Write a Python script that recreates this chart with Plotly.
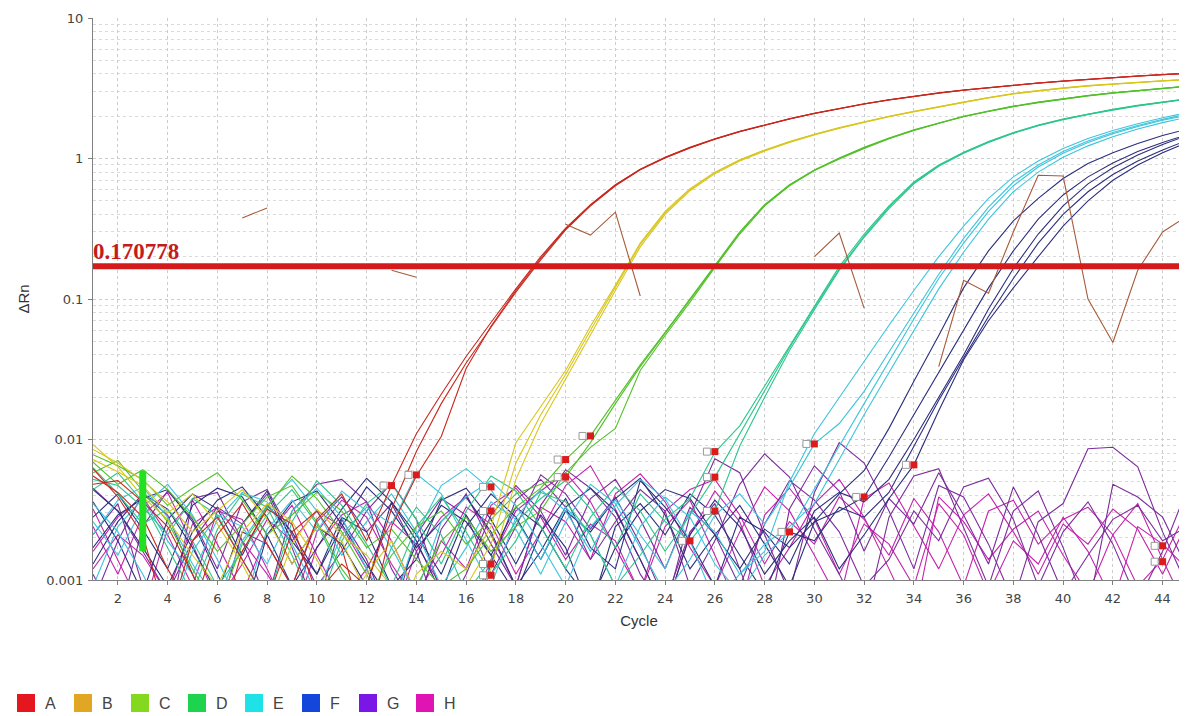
import math
import plotly.graph_objects as go

cycles = list(range(1, 46))
x_ticks = list(range(2, 45, 2))
y_ticks = [0.001, 0.01, 0.1, 1, 10]
y_tick_text = ["0.001", "0.01", "0.1", "1", "10"]
threshold = 0.170778
legend_rows = ["A", "B", "C", "D", "E", "F", "G", "H"]
legend_colors = ["#e4161e", "#e0a624", "#84d81e", "#1ed44e", "#1ee2e6", "#1446dc", "#7a16e6", "#e014b2"]

# ---- amplification curves: baseline part (from cycle 1) + rising part ----
A1_base = [0.0055, 0.0042, 0.0028, 0.0012, 0.0006, 0.0021, 0.0035, 0.0018, 0.0009, 0.0027, 0.0041, 0.0019]
A1_rise = [0.0047, 0.011, 0.021, 0.039, 0.068, 0.118, 0.20, 0.32, 0.47, 0.65, 0.84, 1.02, 1.20, 1.38, 1.56, 1.74, 1.92, 2.10, 2.28, 2.45, 2.62, 2.78, 2.93, 3.07, 3.20, 3.33, 3.45, 3.56, 3.67, 3.77, 3.87, 3.96, 4.05]
A2_base = [0.0048, 0.0051, 0.0036, 0.0024, 0.0011, 0.0004, 0.0016, 0.0032, 0.0025, 0.0008, 0.0013, 0.0009]
A2_rise = [0.0032, 0.0082, 0.018, 0.035, 0.063, 0.112, 0.19, 0.31, 0.46, 0.64, 0.83, 1.01, 1.19, 1.37, 1.55, 1.73, 1.91, 2.09, 2.27, 2.44, 2.61, 2.77, 2.92, 3.06, 3.19, 3.32, 3.44, 3.55, 3.66, 3.76, 3.86, 3.95, 4.03]
A3_base = [0.0062, 0.0039, 0.0021, 0.0005, 0.0019, 0.0028, 0.0014, 0.0007, 0.0022, 0.0031, 0.0017, 0.0004, 0.0024]
A3_rise = [0.0055, 0.0105, 0.032, 0.064, 0.115, 0.195, 0.315, 0.465, 0.645, 0.835, 1.015, 1.195, 1.375, 1.555, 1.735, 1.915, 2.095, 2.275, 2.445, 2.615, 2.775, 2.925, 3.065, 3.195, 3.325, 3.445, 3.555, 3.665, 3.765, 3.865, 3.955, 4.04]

B1_base = [0.0085, 0.0068, 0.0051, 0.0036, 0.0022, 0.0031, 0.0044, 0.0027, 0.0013, 0.0024, 0.0019, 0.0008, 0.0004, 0.0011, 0.0016, 0.0012]
B1_rise = [0.0024, 0.0095, 0.017, 0.031, 0.064, 0.125, 0.25, 0.42, 0.61, 0.80, 0.98, 1.15, 1.32, 1.49, 1.66, 1.83, 2.0, 2.17, 2.34, 2.53, 2.72, 2.9, 3.05, 3.18, 3.3, 3.4, 3.5, 3.58, 3.66]
B2_base = [0.0072, 0.0059, 0.0047, 0.0030, 0.0041, 0.0025, 0.0013, 0.0006, 0.0018, 0.0032, 0.0021, 0.0015, 0.0009, 0.0005, 0.0007, 0.0009]
B2_rise = [0.0018, 0.0068, 0.015, 0.029, 0.06, 0.12, 0.245, 0.41, 0.60, 0.79, 0.97, 1.14, 1.31, 1.48, 1.65, 1.82, 1.99, 2.16, 2.33, 2.52, 2.71, 2.89, 3.04, 3.17, 3.29, 3.39, 3.49, 3.57, 3.65]
B3_base = [0.0092, 0.0064, 0.0039, 0.0027, 0.0015, 0.0009, 0.0022, 0.0035, 0.0026, 0.0014, 0.0006, 0.0011, 0.0019, 0.0008, 0.0010, 0.0006]
B3_rise = [0.0012, 0.0052, 0.013, 0.027, 0.056, 0.115, 0.235, 0.40, 0.59, 0.78, 0.96, 1.13, 1.30, 1.47, 1.64, 1.81, 1.98, 2.15, 2.32, 2.51, 2.70, 2.88, 3.03, 3.16, 3.28, 3.38, 3.48, 3.56, 3.64]

C1_base = [0.0078, 0.0065, 0.0052, 0.0034, 0.0045, 0.0058, 0.0037, 0.0021, 0.0029, 0.0042, 0.0031, 0.0017, 0.0023, 0.0014, 0.0009, 0.0012, 0.0021, 0.0033]
C1_rise = [0.0045, 0.0072, 0.0106, 0.019, 0.034, 0.058, 0.10, 0.175, 0.30, 0.47, 0.65, 0.83, 1.01, 1.2, 1.4, 1.6, 1.8, 2.0, 2.18, 2.36, 2.52, 2.67, 2.81, 2.94, 3.06, 3.17, 3.28]
C2_base = [0.0069, 0.0048, 0.0061, 0.0044, 0.0028, 0.0016, 0.0025, 0.0039, 0.0047, 0.0026, 0.0012, 0.0007, 0.0015, 0.0024, 0.0031, 0.0018, 0.0027, 0.0041]
C2_rise = [0.0048, 0.0054, 0.0095, 0.018, 0.033, 0.057, 0.098, 0.172, 0.295, 0.465, 0.645, 0.825, 1.0, 1.19, 1.39, 1.59, 1.79, 1.99, 2.17, 2.35, 2.51, 2.66, 2.80, 2.93, 3.05, 3.16, 3.27]
C3_base = [0.0058, 0.0071, 0.0043, 0.0026, 0.0012, 0.0006, 0.0018, 0.0033, 0.0055, 0.0038, 0.0022, 0.0011, 0.0005, 0.0009, 0.0019, 0.0028, 0.0016, 0.0024]
C3_rise = [0.0031, 0.0058, 0.0088, 0.012, 0.031, 0.055, 0.095, 0.168, 0.29, 0.46, 0.64, 0.82, 0.99, 1.18, 1.38, 1.58, 1.78, 1.98, 2.16, 2.34, 2.5, 2.65, 2.79, 2.92, 3.04, 3.15, 3.26]

D1_base = [0.0052, 0.0047, 0.0033, 0.0021, 0.0038, 0.0029, 0.0014, 0.0007, 0.0026, 0.0051, 0.0034, 0.0018, 0.0009, 0.0024, 0.0039, 0.0022, 0.0011, 0.0019, 0.0042, 0.0036, 0.0021, 0.0009, 0.0015, 0.0027, 0.0038]
D1_rise = [0.0081, 0.0125, 0.024, 0.047, 0.09, 0.17, 0.29, 0.46, 0.68, 0.90, 1.11, 1.32, 1.53, 1.73, 1.91, 2.08, 2.24, 2.39, 2.53, 2.66]
D2_base = [0.0044, 0.0058, 0.0036, 0.0017, 0.0008, 0.0023, 0.0041, 0.0033, 0.0015, 0.0006, 0.0019, 0.0035, 0.0048, 0.0027, 0.0013, 0.0031, 0.0055, 0.0043, 0.0024, 0.0012, 0.0028, 0.0046, 0.0031, 0.0016, 0.0029]
D2_rise = [0.0054, 0.011, 0.022, 0.045, 0.087, 0.163, 0.28, 0.45, 0.67, 0.89, 1.10, 1.31, 1.52, 1.72, 1.90, 2.07, 2.23, 2.38, 2.52, 2.65]
D3_base = [0.0063, 0.0041, 0.0025, 0.0032, 0.0019, 0.0009, 0.0016, 0.0029, 0.0044, 0.0025, 0.0011, 0.0006, 0.0017, 0.0033, 0.0021, 0.0008, 0.0014, 0.0026, 0.0038, 0.0051, 0.0032, 0.0017, 0.0041, 0.0026]
D3_rise = [0.0019, 0.0031, 0.009, 0.02, 0.043, 0.084, 0.16, 0.275, 0.44, 0.66, 0.88, 1.09, 1.3, 1.51, 1.71, 1.89, 2.06, 2.22, 2.37, 2.51, 2.64]

E1_base = [0.0035, 0.0022, 0.0011, 0.0005, 0.0016, 0.0029, 0.0024, 0.0013, 0.0031, 0.0045, 0.0028, 0.0012, 0.0006, 0.0021, 0.0047, 0.0062, 0.0044, 0.0023, 0.0011, 0.0026, 0.0048, 0.0035, 0.0017, 0.0008, 0.0014, 0.0029, 0.0041, 0.0025, 0.0046]
E1_rise = [0.0093, 0.013, 0.022, 0.042, 0.08, 0.15, 0.27, 0.45, 0.68, 0.9, 1.12, 1.33, 1.53, 1.72, 1.9, 2.07]
E2_base = [0.0021, 0.0037, 0.0046, 0.0028, 0.0013, 0.0007, 0.0019, 0.0034, 0.0052, 0.0031, 0.0015, 0.0026, 0.0041, 0.0022, 0.0009, 0.0017, 0.0036, 0.0027, 0.0014, 0.0033, 0.0021, 0.0009, 0.0024, 0.0039, 0.0028, 0.0013, 0.0008, 0.0015]
E2_rise = [0.0022, 0.0045, 0.009, 0.018, 0.036, 0.072, 0.14, 0.25, 0.42, 0.64, 0.87, 1.09, 1.3, 1.5, 1.69, 1.87, 2.03]
E3_base = [0.0009, 0.0024, 0.0038, 0.0019, 0.0011, 0.0027, 0.0042, 0.0036, 0.0018, 0.0008, 0.0021, 0.0033, 0.0025, 0.0057, 0.0041, 0.0019, 0.0009, 0.0028, 0.0044, 0.0031, 0.0016, 0.0034, 0.0052, 0.0038, 0.0019, 0.0007, 0.0011]
E3_rise = [0.0016, 0.005, 0.011, 0.02, 0.036, 0.065, 0.115, 0.2, 0.33, 0.52, 0.74, 0.96, 1.18, 1.39, 1.58, 1.77, 1.95, 2.12]
E4_base = [0.0026, 0.0015, 0.0033, 0.0048, 0.0029, 0.0014, 0.0006, 0.0023, 0.0037, 0.0022, 0.0043, 0.0031, 0.0017, 0.0008, 0.0026, 0.0039, 0.0051, 0.0034, 0.0018, 0.0009, 0.0024, 0.0037, 0.0021, 0.0012, 0.0031, 0.0022, 0.0011, 0.0018, 0.0024]
E4_rise = [0.0035, 0.0072, 0.015, 0.03, 0.06, 0.118, 0.215, 0.37, 0.58, 0.8, 1.02, 1.23, 1.43, 1.62, 1.8, 1.97]

F1_base = [0.0028, 0.0041, 0.0023, 0.0012, 0.0034, 0.0045, 0.0039, 0.0021, 0.0009, 0.0017, 0.0032, 0.0053, 0.0036, 0.0019, 0.0008, 0.0024, 0.0041, 0.0028, 0.0014, 0.0031, 0.0022, 0.0038, 0.0053, 0.0029, 0.0012, 0.0021, 0.0034, 0.0018, 0.0009, 0.0026, 0.0041]
F1_rise = [0.006, 0.012, 0.026, 0.055, 0.12, 0.22, 0.36, 0.52, 0.72, 0.92, 1.1, 1.28, 1.46, 1.62]
F2_base = [0.0017, 0.0029, 0.0038, 0.0044, 0.0026, 0.0011, 0.0005, 0.0021, 0.0036, 0.0043, 0.0025, 0.0013, 0.0007, 0.0018, 0.0034, 0.0026, 0.0015, 0.0008, 0.0022, 0.0038, 0.0017, 0.0012, 0.0051, 0.0033, 0.0019, 0.0009, 0.0028, 0.0022, 0.0013, 0.0031, 0.0042, 0.0036]
F2_rise = [0.0052, 0.01, 0.02, 0.04, 0.085, 0.165, 0.29, 0.46, 0.66, 0.86, 1.06, 1.26, 1.46]
F3_base = [0.0036, 0.0019, 0.0008, 0.0027, 0.0041, 0.0032, 0.0015, 0.0034, 0.0022, 0.0011, 0.0024, 0.0046, 0.0031, 0.0017, 0.0026, 0.0039, 0.0022, 0.0009, 0.0016, 0.0033, 0.0045, 0.0031, 0.0014, 0.0006, 0.0021, 0.0037, 0.0024, 0.0011, 0.0019, 0.0028, 0.0012, 0.0021, 0.0038]
F3_rise = [0.0066, 0.016, 0.037, 0.07, 0.12, 0.2, 0.33, 0.5, 0.7, 0.9, 1.1, 1.3]
F4_base = [0.0044, 0.0031, 0.0017, 0.0009, 0.0022, 0.0037, 0.0046, 0.0028, 0.0013, 0.0024, 0.0018, 0.0009, 0.0036, 0.0021, 0.0011, 0.0029, 0.0015, 0.0033, 0.0024, 0.0012, 0.0007, 0.0017, 0.0031, 0.0044, 0.0038, 0.0021, 0.0012, 0.0023, 0.0017, 0.0026, 0.0031]
F4_rise = [0.0039, 0.0075, 0.015, 0.03, 0.06, 0.12, 0.22, 0.37, 0.55, 0.74, 0.93, 1.12, 1.3, 1.48]
F5_base = [0.0013, 0.0026, 0.0041, 0.0032, 0.0017, 0.0008, 0.0025, 0.0043, 0.0019, 0.0011, 0.0028, 0.0022, 0.0009, 0.0014, 0.0037, 0.0045, 0.0027, 0.0013, 0.0029, 0.0017, 0.0006, 0.0024, 0.0035, 0.0021, 0.0041, 0.0029, 0.0015, 0.0008, 0.0022, 0.0019, 0.0033, 0.0028]
F5_rise = [0.0042, 0.009, 0.019, 0.038, 0.075, 0.14, 0.25, 0.4, 0.58, 0.77, 0.96, 1.15, 1.35]

# ---- non-amplifying wells (noise around the baseline) ----
G1 = [0.0021, 0.0035, 0.0009, 0.0004, 0.0038, 0.0042, 0.0019, 0.0007, 0.0031, 0.0048, 0.0052, 0.0036, 0.0012, 0.0006, 0.0023, 0.0041, 0.0018, 0.0009, 0.0034, 0.0061, 0.0045, 0.0028, 0.0011, 0.0006, 0.0029, 0.0073, 0.0058, 0.0021, 0.0008, 0.0042, 0.0095, 0.0068, 0.0031, 0.0012, 0.0047, 0.0039, 0.0018, 0.0007, 0.0026, 0.0035, 0.0086, 0.0088, 0.0064, 0.0022, 0.0009]
G2 = [0.0011, 0.0005, 0.0024, 0.0043, 0.0027, 0.0012, 0.0036, 0.0044, 0.0021, 0.0009, 0.0016, 0.0031, 0.0049, 0.0027, 0.0008, 0.0004, 0.0013, 0.0037, 0.0052, 0.0033, 0.0014, 0.0026, 0.0044, 0.0031, 0.0009, 0.0019, 0.0048, 0.0079, 0.0054, 0.0023, 0.0011, 0.0005, 0.0028, 0.0055, 0.0062, 0.0024, 0.0009, 0.0031, 0.0043, 0.0017, 0.0006, 0.0048, 0.0039, 0.0028, 0.0012]
G3 = [0.0045, 0.0031, 0.0016, 0.0008, 0.0019, 0.0033, 0.0025, 0.0041, 0.0017, 0.0006, 0.0027, 0.0014, 0.0005, 0.0021, 0.0038, 0.0029, 0.0011, 0.0024, 0.0056, 0.0041, 0.0023, 0.0039, 0.0018, 0.0007, 0.0022, 0.0035, 0.0012, 0.0004, 0.0032, 0.0065, 0.0043, 0.0016, 0.0038, 0.0025, 0.0058, 0.0029, 0.0013, 0.0046, 0.0021, 0.0008, 0.0015, 0.0027, 0.0034, 0.0019, 0.0024]
G4 = [0.0007, 0.0019, 0.0041, 0.0029, 0.0011, 0.0005, 0.0022, 0.0018, 0.0009, 0.0026, 0.0039, 0.0022, 0.0035, 0.0016, 0.0005, 0.0011, 0.0029, 0.0047, 0.0031, 0.0015, 0.0038, 0.0052, 0.0027, 0.0012, 0.0033, 0.0021, 0.0009, 0.0025, 0.0051, 0.0037, 0.0022, 0.0009, 0.0014, 0.0031, 0.0019, 0.0046, 0.0053, 0.0027, 0.0009, 0.0022, 0.0036, 0.0018, 0.0007, 0.0016, 0.0045]
H1 = [0.0032, 0.0014, 0.0006, 0.0023, 0.0037, 0.0018, 0.0008, 0.0021, 0.0034, 0.0015, 0.0007, 0.0012, 0.0026, 0.0018, 0.0009, 0.0005, 0.0014, 0.0031, 0.0043, 0.0058, 0.0036, 0.0017, 0.0008, 0.0024, 0.0037, 0.0015, 0.0006, 0.0029, 0.0045, 0.0027, 0.0011, 0.0025, 0.0018, 0.0009, 0.0035, 0.0021, 0.0008, 0.0019, 0.0013, 0.0028, 0.0016, 0.0007, 0.0024, 0.0018, 0.0012]
H2 = [0.0016, 0.0028, 0.0039, 0.0021, 0.0009, 0.0031, 0.0027, 0.0012, 0.0005, 0.0017, 0.0029, 0.0036, 0.0019, 0.0008, 0.0015, 0.0033, 0.0025, 0.0011, 0.0022, 0.0047, 0.0065, 0.0032, 0.0014, 0.0006, 0.0021, 0.0043, 0.0026, 0.0009, 0.0017, 0.0035, 0.0052, 0.0028, 0.0012, 0.0005, 0.0039, 0.0026, 0.0014, 0.0023, 0.0031, 0.0015, 0.0008, 0.0021, 0.0035, 0.0014, 0.0006]
H3 = [0.0024, 0.0011, 0.0029, 0.0042, 0.0018, 0.0007, 0.0013, 0.0027, 0.0019, 0.0031, 0.0024, 0.0012, 0.0005, 0.0016, 0.0028, 0.0039, 0.0021, 0.0009, 0.0033, 0.0026, 0.0014, 0.0041, 0.0057, 0.0036, 0.0017, 0.0009, 0.0022, 0.0046, 0.0031, 0.0015, 0.0007, 0.0038, 0.0049, 0.0024, 0.0012, 0.0029, 0.0041, 0.0022, 0.0011, 0.0025, 0.0018, 0.0032, 0.0023, 0.0011, 0.0026]
H4 = [0.0012, 0.0021, 0.0015, 0.0008, 0.0025, 0.0033, 0.0019, 0.0011, 0.0006, 0.0022, 0.0037, 0.0028, 0.0013, 0.0007, 0.0019, 0.0012, 0.0034, 0.0045, 0.0028, 0.0014, 0.0025, 0.0019, 0.0008, 0.0031, 0.0044, 0.0052, 0.0029, 0.0013, 0.0026, 0.0018, 0.0039, 0.0027, 0.0015, 0.0038, 0.0022, 0.0009, 0.0031, 0.0037, 0.0018, 0.0027, 0.0033, 0.0021, 0.0009, 0.0014, 0.0032]

# ---- stray fragments of a very noisy well (only positive values visible on log scale) ----
stray_x = [[7, 8], [13, 14], [20, 21, 22, 23], [30, 31, 32], [35, 36, 37, 38, 39, 40, 41, 42, 43, 44, 45]]
stray_y = [[0.377, 0.445], [0.16, 0.143], [0.34, 0.285, 0.415, 0.105], [0.2, 0.295, 0.086],
           [0.033, 0.136, 0.11, 0.3, 0.76, 0.75, 0.1, 0.049, 0.16, 0.3, 0.39]]

# ---- Ct markers and baseline marker ----
ct_x = [13, 14, 17, 17, 17, 17, 20, 20, 21, 25, 26, 26, 26, 29, 30, 32, 34, 44, 44]
ct_y = [0.0047, 0.0056, 0.0046, 0.0031, 0.0013, 0.00108, 0.0072, 0.0054, 0.0106, 0.0019, 0.0082, 0.0054, 0.0031, 0.0022, 0.0093, 0.0039, 0.0066, 0.00175, 0.00135]
baseline_cycle = 3
baseline_y = [0.0016, 0.006]

curve_colors = {"A": "#c8281e", "B": "#d8c61c", "C": "#52c02a", "D": "#2cc68c",
                "E": "#3cc4dc", "F": "#2c2e7c", "G": "#7c2c9c", "H": "#c424ac"}
stray_color = "#a85a3a"

groups = [
    ("H", [H1, H2, H3, H4]),
    ("G", [G1, G2, G3, G4]),
    ("F", [F1_base + F1_rise, F2_base + F2_rise, F3_base + F3_rise, F4_base + F4_rise, F5_base + F5_rise]),
    ("E", [E1_base + E1_rise, E2_base + E2_rise, E3_base + E3_rise, E4_base + E4_rise]),
    ("D", [D1_base + D1_rise, D2_base + D2_rise, D3_base + D3_rise]),
    ("C", [C1_base + C1_rise, C2_base + C2_rise, C3_base + C3_rise]),
    ("B", [B1_base + B1_rise, B2_base + B2_rise, B3_base + B3_rise]),
    ("A", [A1_base + A1_rise, A2_base + A2_rise, A3_base + A3_rise]),
]

fig = go.Figure()

for row, series in groups:
    for ys in series:
        fig.add_trace(go.Scatter(x=cycles[:len(ys)], y=ys, mode="lines",
                                 line=dict(color=curve_colors[row], width=1.1),
                                 showlegend=False, hoverinfo="skip"))

for sx, sy in zip(stray_x, stray_y):
    fig.add_trace(go.Scatter(x=sx, y=sy, mode="lines", line=dict(color=stray_color, width=1.1),
                             showlegend=False, hoverinfo="skip"))

# threshold line
fig.add_trace(go.Scatter(x=[cycles[0], cycles[-1]], y=[threshold, threshold], mode="lines",
                         line=dict(color="#d41a1a", width=6), showlegend=False, hoverinfo="skip"))

# baseline marker
fig.add_trace(go.Scatter(x=[baseline_cycle, baseline_cycle], y=baseline_y, mode="lines",
                         line=dict(color="#22e022", width=7), showlegend=False, hoverinfo="skip"))

# Ct markers
fig.add_trace(go.Scatter(x=[c - 0.32 for c in ct_x], y=ct_y, mode="markers",
                         marker=dict(symbol="square", size=7, color="white",
                                     line=dict(color="#999999", width=1)),
                         showlegend=False, hoverinfo="skip"))
fig.add_trace(go.Scatter(x=ct_x, y=ct_y, mode="markers",
                         marker=dict(symbol="square", size=7, color="#dc1c1c"),
                         showlegend=False, hoverinfo="skip"))

fig.add_annotation(x=cycles[0], y=math.log10(threshold), xref="x", yref="y",
                   text="<b>0.170778</b>", showarrow=False, xanchor="left", yanchor="bottom",
                   yshift=0, xshift=-2,
                   font=dict(family="Liberation Serif", size=23, color="#c41c1c"))

# ---- row legend below the plot (colour swatch + row letter) ----
W, H = 1179, 716
ML, MR, MT, MB = 85, 2, 10, 144
plot_w = W - ML - MR
plot_h = H - MT - MB
sw_left0, sw_step, sw_size, sw_top = 9, 57, 18, 686   # figure pixels
for i, (name, col) in enumerate(zip(legend_rows, legend_colors)):
    x0 = sw_left0 + i * sw_step
    fig.add_shape(type="rect", xref="paper", yref="paper",
                  x0=(x0 - ML) / plot_w, x1=(x0 + sw_size - ML) / plot_w,
                  y0=(H - MB - sw_top) / plot_h, y1=(H - MB - sw_top - sw_size) / plot_h,
                  fillcolor=col, line=dict(width=0), layer="above")
    fig.add_annotation(xref="paper", yref="paper",
                       x=(x0 + sw_size + 8 - ML) / plot_w, y=(H - MB - sw_top - sw_size / 2) / plot_h,
                       text=name, showarrow=False, xanchor="left", yanchor="middle",
                       font=dict(family="Liberation Sans", size=16, color="#444444"))

minor_vals = [m * 10 ** e for e in range(-3, 1) for m in range(2, 10)]
tick_font = dict(family="DejaVu Sans", size=13, color="#444444")

# page body adds an 8px margin, so the plot area is offset by it
fig.update_layout(
    width=W, height=H,
    margin=dict(l=ML, r=MR, t=MT, b=MB),
    paper_bgcolor="white", plot_bgcolor="white",
    font=dict(family="Liberation Sans, Arial, sans-serif", color="#333333"),
    showlegend=False,
    xaxis=dict(range=[1, 44.9], tickmode="array", tickvals=x_ticks, automargin=False,
               showgrid=True, gridcolor="#cccccc", griddash="dot", gridwidth=1,
               showline=True, linecolor="#808080", linewidth=1,
               ticks="outside", ticklen=4, tickcolor="#808080", ticklabelstandoff=2,
               tickfont=tick_font, zeroline=False,
               title=dict(text="Cycle", font=dict(size=15, color="#333333"), standoff=10)),
    yaxis=dict(type="log", range=[-3, 1], tickmode="array", tickvals=y_ticks, ticktext=y_tick_text,
               automargin=False,
               showgrid=True, gridcolor="#cccccc", griddash="dot", gridwidth=1,
               minor=dict(tickmode="array", tickvals=minor_vals, showgrid=True,
                          gridcolor="#dadada", griddash="dot", ticks=""),
               showline=True, linecolor="#808080", linewidth=1,
               ticks="outside", ticklen=4, tickcolor="#808080", ticklabelstandoff=2,
               tickfont=tick_font, zeroline=False,
               title=dict(text="ΔRn", font=dict(size=15, color="#333333"), standoff=12)),
)

fig.write_html("out.html")
